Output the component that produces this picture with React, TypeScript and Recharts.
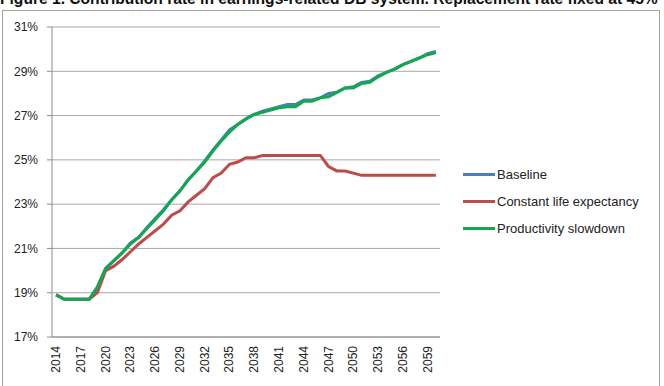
import React from 'react';
import { LineChart, Line, XAxis, YAxis, CartesianGrid } from 'recharts';

const title = 'Figure 1. Contribution rate in earnings-related DB system. Replacement rate fixed at 45%';

const years = [
  2014, 2015, 2016, 2017, 2018, 2019, 2020, 2021, 2022, 2023, 2024, 2025,
  2026, 2027, 2028, 2029, 2030, 2031, 2032, 2033, 2034, 2035, 2036, 2037,
  2038, 2039, 2040, 2041, 2042, 2043, 2044, 2045, 2046, 2047, 2048, 2049,
  2050, 2051, 2052, 2053, 2054, 2055, 2056, 2057, 2058, 2059, 2060,
];

const baseline = [
  18.9, 18.7, 18.7, 18.7, 18.7, 19.25, 20.1, 20.45, 20.8, 21.25, 21.5, 21.95,
  22.35, 22.75, 23.2, 23.6, 24.1, 24.5, 24.95, 25.45, 25.9, 26.35, 26.6, 26.85,
  27.05, 27.2, 27.3, 27.4, 27.5, 27.5, 27.7, 27.7, 27.8, 28.0, 28.05, 28.25,
  28.3, 28.5, 28.55, 28.8, 28.95, 29.1, 29.3, 29.45, 29.6, 29.8, 29.9,
];

const constantLife = [
  18.9, 18.7, 18.7, 18.7, 18.7, 19.0, 20.0, 20.2, 20.5, 20.85, 21.2, 21.5,
  21.8, 22.1, 22.5, 22.7, 23.1, 23.4, 23.7, 24.2, 24.4, 24.8, 24.9, 25.1,
  25.1, 25.2, 25.2, 25.2, 25.2, 25.2, 25.2, 25.2, 25.2, 24.7, 24.5, 24.5,
  24.4, 24.3, 24.3, 24.3, 24.3, 24.3, 24.3, 24.3, 24.3, 24.3, 24.3,
];

const productivity = [
  18.9, 18.7, 18.7, 18.7, 18.7, 19.25, 20.1, 20.45, 20.8, 21.2, 21.5, 21.9,
  22.3, 22.7, 23.2, 23.6, 24.1, 24.5, 24.9, 25.4, 25.85, 26.25, 26.6, 26.85,
  27.05, 27.15, 27.25, 27.35, 27.4, 27.4, 27.65, 27.65, 27.8, 27.85, 28.05, 28.25,
  28.25, 28.45, 28.5, 28.75, 28.95, 29.1, 29.3, 29.45, 29.6, 29.75, 29.85,
];

const yTicks = [17, 19, 21, 23, 25, 27, 29, 31];
const xLabelYears = [2014, 2017, 2020, 2023, 2026, 2029, 2032, 2035, 2038, 2041, 2044, 2047, 2050, 2053, 2056, 2059];

const series = [
  { key: 'baseline', name: 'Baseline', color: '#4A7EBB', values: baseline },
  { key: 'constantLife', name: 'Constant life expectancy', color: '#BE4B48', values: constantLife },
  { key: 'productivity', name: 'Productivity slowdown', color: '#14A84E', values: productivity },
];

const data = years.map((year, i) => {
  const row: Record<string, number> = { year };
  series.forEach((s) => {
    row[s.key] = s.values[i];
  });
  return row;
});

const xDomain = [years[0] - 0.5, years[years.length - 1] + 0.5];
const xEdges = years.map((y) => y - 0.5).concat([years[years.length - 1] + 0.5]);

const FONT = '"Liberation Sans", Arial, sans-serif';

const XTick = (props: any) => {
  const { x, y, payload } = props;
  return (
    <g transform={`translate(${x},${y})`}>
      <text
        x={0}
        y={0}
        dy={4}
        transform="rotate(-90)"
        textAnchor="end"
        fontSize={12}
        fontFamily={FONT}
        fill="#222"
      >
        {payload.value}
      </text>
    </g>
  );
};

export default function App() {
  return (
    <div
      style={{
        position: 'absolute',
        left: 0,
        top: 0,
        width: 664,
        height: 386,
        overflow: 'hidden',
        background: '#fff',
        fontFamily: FONT,
      }}
    >
      <div
        style={{
          position: 'absolute',
          left: 0,
          top: -9,
          fontSize: 15.6,
          lineHeight: '16px',
          fontWeight: 'bold',
          whiteSpace: 'nowrap',
          color: '#111',
        }}
      >
        {title}
      </div>
      <div
        style={{
          position: 'absolute',
          left: 2,
          top: 10,
          width: 658,
          height: 400,
          border: '1px solid #a3a3a3',
          boxSizing: 'border-box',
        }}
      />
      <div style={{ position: 'absolute', left: 0, top: 0 }}>
        <LineChart
          width={664}
          height={386}
          data={data}
          margin={{ top: 27, right: 224, bottom: 0, left: 0 }}
        >
          <CartesianGrid vertical={false} stroke="#a8a8a8" strokeWidth={1} />
          <XAxis
            xAxisId="edges"
            type="number"
            domain={xDomain}
            ticks={xEdges}
            tick={false}
            axisLine={false}
            tickLine={{ stroke: '#8c8c8c' }}
            tickSize={5}
            height={0}
            allowDataOverflow
          />
          <XAxis
            dataKey="year"
            type="number"
            domain={xDomain}
            ticks={xLabelYears}
            interval={0}
            tick={<XTick />}
            tickLine={false}
            tickSize={0}
            tickMargin={9}
            axisLine={{ stroke: '#8c8c8c' }}
            height={49}
          />
          <YAxis
            domain={[17, 31]}
            ticks={yTicks}
            interval={0}
            width={52}
            tickFormatter={(v: number) => `${v}%`}
            tick={{ fontSize: 12, fontFamily: FONT, fill: '#222' }}
            tickLine={{ stroke: '#8c8c8c' }}
            tickSize={5}
            tickMargin={9}
            axisLine={{ stroke: '#8c8c8c' }}
          />
          {series.map((s) => (
            <Line
              key={s.key}
              dataKey={s.key}
              name={s.name}
              stroke={s.color}
              strokeWidth={3}
              dot={false}
              activeDot={false}
              isAnimationActive={false}
              type="linear"
            />
          ))}
        </LineChart>
      </div>
      <div style={{ position: 'absolute', left: 463, top: 161 }}>
        {series.map((s) => (
          <div
            key={s.key}
            style={{ display: 'flex', alignItems: 'center', height: 27, fontSize: 13, color: '#222' }}
          >
            <div style={{ width: 32, height: 3, background: s.color, marginRight: 2 }} />
            <span style={{ whiteSpace: 'nowrap' }}>{s.name}</span>
          </div>
        ))}
      </div>
    </div>
  );
}
